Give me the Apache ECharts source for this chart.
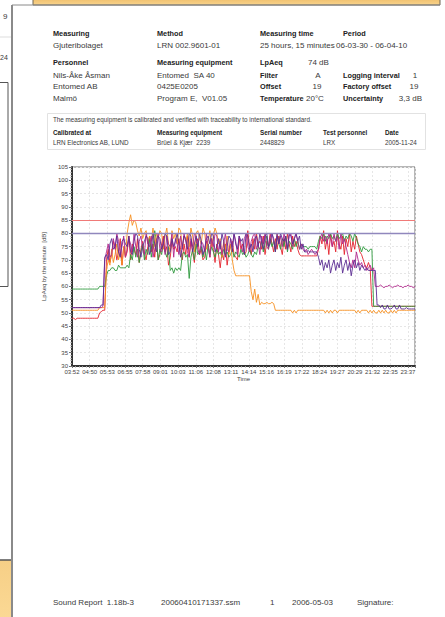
<!DOCTYPE html>
<html>
<head>
<meta charset="utf-8">
<script src="https://cdn.jsdelivr.net/npm/echarts@6.0.0/dist/echarts.min.js"></script>
<style>
html,body{margin:0;padding:0;background:#fff;}
#main{width:445px;height:617px;}
</style>
</head>
<body>
<div id="main"></div>
<script>
// tick labels along the time axis (one per label step)
var timeLabels = ['03:52','04:50','05:53','06:55','07:58','09:01','10:03','11:06','12:08','13:11',
  '14:14','15:16','16:19','17:22','18:24','19:27','20:29','21:32','22:35','23:37'];

// LpAeq per sample, 10 samples per row
var purple = [
  52,52,52,52,52,52,52,52,52,52,
  52,52,52,52,52,52,52,53,53,71,
  72,70,76,78,74,75,79,73,71,77,
  78,76,75,79,73,72,77,80,79,74,
  71,75,77,79,78,72,74,80,76,73,
  79,78,74,76,80,79,72,73,78,75,
  77,80,76,71,75,79,78,74,80,79,
  73,76,79,75,80,77,72,74,78,79,
  76,80,79,73,75,78,74,80,77,71,
  75,79,78,73,80,76,74,79,77,78,
  72,80,79,74,76,73,78,79,75,80,
  77,74,79,80,75,76,80,78,73,79,
  76,80,78,77,79,74,80,79,76,78,
  80,77,79,74,76,73,73,73.5,73,73,
  73,73,73,71,68,70,66,69,67,70,
  65,68,70,66,69,67,71,65,68,70,
  66,69,64,68,70,67,69,66,68,67,
  66,67,66,66,66,66,66,53,53,52,
  53,51.5,51.5,53,51.5,51.5,52,53,51.5,51.5,
  53,51.5,51.5,51.5,52,51.5,51.5,51.5,51.5,51.5
];
var magenta = [
  52,52,52,52,52,52,52,52,52,52,
  52,52,52,52,52,52,52,52,52.5,70,
  73,76,71,72,78,74,80,77,72,75,
  79,71,74,78,76,73,80,75,71,77,
  79,74,72,80,76,75,79,71,74,77,
  80,74,73,78,72,79,76,75,80,71,
  78,76,72,79,74,80,77,73,71,78,
  75,80,79,74,72,77,76,73,80,75,
  71,78,75,80,79,73,77,72,76,80,
  74,73,78,75,80,77,72,79,76,73,
  78,80,75,73,77,79,80,74,76,72,
  79,76,80,75,74,79,80,77,74,80,
  76,79,75,80,77,74,79,80,75,78,
  80,77,74,76,74,73,74,72,73,74,
  73,72,73,74,78,80,77,79,76,80,
  78,75,80,77,79,74,80,76,78,75,
  72,69,67,70,67,73,70,68,69,67,
  68,66,67,68,66,67,60,60,60,60.5,
  60,59.5,60,60,60.5,60,59.5,60,60,60.5,
  60,60,59.5,60,60,60.5,60,60,59.5,60
];
var red = [
  48,48,47.5,48,48,48,48,48,48,48,
  48,48,48,48,48,48,50,50.5,51,51,
  70,74,69,72,77,75,70,73,78,68,
  75,71,73,79,70,76,74,72,78,69,
  74,77,72,70,75,79,73,76,71,78,
  70,72,76,79,73,75,68,71,77,74,
  75,73,78,74,70,76,72,79,71,77,
  73,69,76,78,72,74,70,71,77,75,
  71,78,74,69,76,72,67,73,70,76,
  68,73,75,77,72,71,70,78,74,76,
  72,73,81,75,72,78,74,80,76,77,
  74,79,72,77,75,80,76,73,78,74,
  79,75,72,78,74,80,76,73,79,75,
  77,74,72,71.5,71.5,71.5,71.5,71.5,71.5,71.5,
  71.5,71.5,71.5,74,79,76,81,74,78,72,
  80,75,77,73,81,76,74,79,72,78,
  75,80,73,77,74,79,76,73,72,70,
  68,67,69,67,52.5,52.5,52.5,52.5,52.5,52.5,
  52.5,52.5,52.5,52.5,52.5,52.5,52.5,52.5,52.5,52.5,
  52.5,52.5,52.5,52.5,52.5,52.5,52.5,52.5,52.5,52.5
];
var orange = [
  51,51,51,51,51,51,51,51,51,51,
  51,51,51,51,51,51,52,52,52,52,
  66,70,68,74,69,72,76,70,73,68,
  75,71,80,84,87,83,85,84,81,79,
  82,78,80,81,76,79,77,82,75,80,
  78,81,80,74,79,82,76,73,81,78,
  80,76,82,81,74,79,77,80,75,82,
  79,73,80,81,78,76,82,80,74,77,
  81,75,79,82,80,76,78,71,77,74,
  79,72,76,70,66,64,64,64,64,64,
  64,64,64,64,58,55,59,54,57,53,
  54,53.5,53.5,54,53.5,53.5,54,53.5,51,51,
  51,51,51,51,51,51,51,51,50,51,
  50,51,51,51,51,51,51,51,51,51,
  51,51,51,51,51,51,51,50,51,50,
  51,50,51,51,50,51,51,51,51,51,
  51,51,51,51,51,50,51,50,51,51,
  51,51,50,51,50,51,50,50,51,50,
  51,50,51,50,50,51,50,51,50,51,
  51,51,51,51,51,51,51,51,51,51
];
var green = [
  59,59,59,59,59,59,59,59,59,59,
  59,59,59,59,59,59,60,60,60,60,
  64,66,66,67,67,66,66,68,67,67,
  67,67,68,67,72,70,75,71,74,69,
  73,76,70,74,72,78,71,75,81,77,
  70,74,72,76,73,71,75,66,67,65,
  67,66,67,66,72,73,71,72,63,71,
  74,70,76,72,73,75,71,74,70,76,
  72,75,73,71,74,72,73,71,74,72,
  73,71,72,74,71,73,72,71,74,72,
  73,71,72,74,72,71,73,72,75,74,
  77,73,76,79,74,78,75,77,73,80,
  76,74,78,75,79,73,77,76,74,78,
  75,77,74,76,75,75,75,74,75,75,
  75,75,74,77,79,78,80,77,79,78,
  80,78,79,77,80,78,79,80,77,79,
  78,80,79,77,80,78,76,75,73,75,
  74,74,73,74,74,52.5,52.5,52.5,52.5,52.5,
  52.5,52.5,52.5,52.5,52.5,52.5,52.5,52.5,52.5,52.5,
  52.5,52.5,52.5,52.5,52.5,52.5,52.5,52.5,52.5,52.5
];
var limitHigh = 85;
var limitLow = 80;
var X_MAX = 19.4;                       // axis end, in label steps
var STEP = X_MAX / (red.length - 1);     // spacing of samples

var FONT = 'Liberation Sans, Arial, sans-serif';

// report texts: [text, x, y, size, bold, align]
var reportTexts = [
  ['Measuring', 53, 33, 7.3, 1], ['Method', 157, 33, 7.3, 1], ['Measuring time', 260, 33, 7.3, 1], ['Period', 343, 33, 7.3, 1],
  ['Gjuteribolaget', 53, 45, 8], ['LRN 002.9601-01', 157, 45, 8], ['25 hours, 15 minutes', 260, 45, 8], ['06-03-30 - 06-04-10', 336, 45, 8],
  ['Personnel', 53, 62, 7.3, 1], ['Measuring equipment', 157, 62, 7.3, 1], ['LpAeq', 260, 62, 7.3, 1], ['74 dB', 308, 62, 8],
  ['Nils-Åke Åsman', 53, 75, 8], ['Entomed  SA 40', 157, 75, 8], ['Filter', 260, 75, 7.3, 1], ['A', 318, 75, 8, 0, 'center'],
  ['Logging interval', 343, 75, 7.3, 1], ['1', 415, 75, 8, 0, 'center'],
  ['Entomed AB', 53, 86, 8], ['0425E0205', 157, 86, 8], ['Offset', 260, 86, 7.3, 1], ['19', 317, 86, 8, 0, 'center'],
  ['Factory offset', 343, 86, 7.3, 1], ['19', 414, 86, 8, 0, 'center'],
  ['Malmö', 53, 98, 8], ['Program E,  V01.05', 157, 98, 8], ['Temperature', 260, 98, 7.3, 1], ['20°C', 306, 98, 8],
  ['Uncertainty', 343, 98, 7.3, 1], ['3,3 dB', 422, 98, 8, 0, 'right'],
  ['The measuring equipment is calibrated and verified with traceability to international standard.', 53, 119, 6.3],
  ['Calibrated at', 53, 132, 6.3, 1], ['Measuring equipment', 157, 132, 6.3, 1], ['Serial number', 260, 132, 6.3, 1],
  ['Test personnel', 323, 132, 6.3, 1], ['Date', 385, 132, 6.3, 1],
  ['LRN Electronics AB, LUND', 53, 142, 6.3], ['Brüel & Kjær  2239', 157, 142, 6.3], ['2448829', 260, 142, 6.3],
  ['LRX', 323, 142, 6.3], ['2005-11-24', 385, 142, 6.3],
  ['Sound Report  1.18b-3', 53, 602, 8], ['20060410171337.ssm', 161, 602, 8], ['1', 270, 602, 8],
  ['2006-05-03', 292, 602, 8], ['Signature:', 357, 602, 8],
  ['9', 3, 16, 8], ['24', 0, 57, 7]
];

var graphics = [
  // page behind, top bar and bottom left
  { type: 'rect', shape: { x: 33, y: -1, width: 407, height: 6 },
    style: { fill: new echarts.graphic.LinearGradient(0, 0, 0, 1, [{ offset: 0, color: '#f1c06c' }, { offset: 1, color: '#f8d48e' }]), stroke: '#6f6656', lineWidth: 1 } },
  { type: 'rect', shape: { x: -1, y: 560, width: 13, height: 60 },
    style: { fill: new echarts.graphic.LinearGradient(0, 0, 0, 1, [{ offset: 0, color: '#f6cf86' }, { offset: 1, color: '#fbd995' }]), stroke: '#555', lineWidth: 1.5 } },
  { type: 'line', shape: { x1: 12, y1: 5, x2: 440, y2: 5 }, style: { stroke: '#8a8a8a', lineWidth: 1 } },
  { type: 'line', shape: { x1: 12, y1: 5, x2: 12, y2: 617 }, style: { stroke: '#8a8a8a', lineWidth: 2 } },
  { type: 'line', shape: { x1: 0, y1: 37, x2: 11, y2: 37 }, style: { stroke: '#dddddd', lineWidth: 1 } },
  { type: 'rect', shape: { x: -2, y: 82.5, width: 10, height: 204 }, style: { fill: 'none', stroke: '#555', lineWidth: 1 } },
  // calibration box
  { type: 'rect', shape: { x: 47.5, y: 113.5, width: 378, height: 36 }, style: { fill: 'none', stroke: '#e2e2e2', lineWidth: 1 } }
];
reportTexts.forEach(function (t) {
  graphics.push({
    type: 'text',
    style: {
      text: t[0], x: t[1], y: t[2],
      fill: t[4] ? '#222' : '#3a3a3a',
      font: (t[4] ? 'bold ' : '') + t[3] + 'px ' + FONT,
      textAlign: t[5] || 'left',
      textVerticalAlign: 'middle'
    }
  });
});

function toPoints(arr) {
  return arr.map(function (v, i) { return [i * STEP, v]; });
}

function lineSeries(name, arr, color, extra) {
  var s = {
    name: name, type: 'line', symbol: 'none',
    data: toPoints(arr),
    lineStyle: { color: color, width: 0.9 },
    itemStyle: { color: color },
    animation: false
  };
  return Object.assign(s, extra || {});
}

var chart = echarts.init(document.getElementById('main'), null, { renderer: 'svg' });
chart.setOption({
  backgroundColor: '#fff',
  animation: false,
  textStyle: { fontFamily: FONT },
  grid: { left: 72, right: 30, top: 167, bottom: 251, show: true, borderColor: '#6e6e6e', borderWidth: 1 },
  xAxis: {
    type: 'value', min: 0, max: X_MAX, interval: 1,
    name: 'Time', nameLocation: 'middle', nameGap: 10,
    nameTextStyle: { fontSize: 6, color: '#444' },
    axisLine: { lineStyle: { color: '#333', width: 2 } },
    axisTick: { length: 2, lineStyle: { color: '#777' } },
    minorTick: { show: true, splitNumber: 5, length: 1.5, lineStyle: { color: '#999' } },
    axisLabel: {
      fontSize: 6, color: '#444', margin: 3,
      formatter: function (v) {
        var k = Math.round(v);
        return Math.abs(v - k) < 1e-6 && timeLabels[k] ? timeLabels[k] : '';
      }
    },
    splitLine: { show: true, lineStyle: { color: '#e6e6e6', type: [2, 2] } }
  },
  yAxis: {
    type: 'value', min: 30, max: 105, interval: 5,
    name: 'LpAeq by the minute  [dB]', nameLocation: 'middle', nameGap: 21,
    nameTextStyle: { fontSize: 6, color: '#444' },
    axisLine: { show: true, lineStyle: { color: '#333', width: 2 } },
    axisTick: { show: true, length: 3, lineStyle: { color: '#777' } },
    minorTick: { show: true, splitNumber: 5, length: 1.5, lineStyle: { color: '#999' } },
    axisLabel: { fontSize: 6, color: '#444', margin: 4 },
    splitLine: { show: true, lineStyle: { color: '#e6e6e6', type: [2, 2] } }
  },
  series: [
    lineSeries('red', red, '#e4232c', {
      markLine: {
        silent: true, symbol: 'none', label: { show: false }, animation: false,
        data: [
          { yAxis: limitHigh, lineStyle: { color: '#f07a78', width: 1.1, type: 'solid' } },
          { yAxis: limitLow, lineStyle: { color: '#9087bd', width: 1.4, type: 'solid' } }
        ]
      }
    }),
    lineSeries('green', green, '#2e9a3d'),
    lineSeries('orange', orange, '#f68f1f'),
    lineSeries('magenta', magenta, '#b1278c'),
    lineSeries('purple', purple, '#5b2c92')
  ],
  graphic: graphics
});
</script>
</body>
</html>
